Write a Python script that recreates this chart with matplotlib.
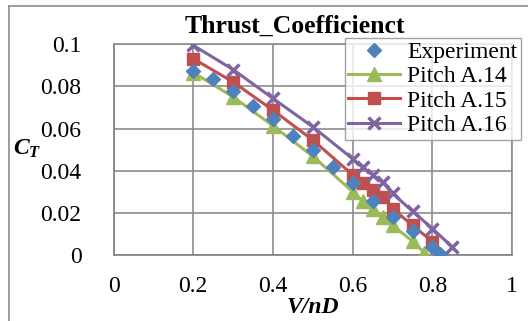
import matplotlib
matplotlib.use("Agg")
import matplotlib.pyplot as plt
from matplotlib.lines import Line2D

# --------------------
# Data
# --------------------
exp_j = [0.2, 0.25, 0.3, 0.35, 0.4, 0.45, 0.5, 0.55, 0.6, 0.65, 0.7, 0.75, 0.8, 0.82]
exp_ct = [0.0875, 0.0834, 0.0776, 0.0708, 0.0644, 0.0566, 0.0496, 0.0419, 0.034, 0.0257,
          0.0182, 0.0115, 0.0039, 0.0005]

a14_j = [0.2, 0.3, 0.4, 0.5, 0.6, 0.625, 0.65, 0.675, 0.7, 0.75, 0.78]
a14_ct = [0.0866, 0.075, 0.0613, 0.0468, 0.030, 0.0256, 0.0218, 0.018, 0.014, 0.0065, 0.001]

a15_j = [0.2, 0.3, 0.4, 0.5, 0.6, 0.625, 0.65, 0.675, 0.7, 0.75, 0.8]
a15_ct = [0.0932, 0.0821, 0.0687, 0.0545, 0.038, 0.034, 0.031, 0.0276, 0.022, 0.014, 0.0063]

a16_j = [0.2, 0.3, 0.4, 0.5, 0.6, 0.625, 0.65, 0.675, 0.7, 0.75, 0.8, 0.85]
a16_ct = [0.0995, 0.088, 0.0743, 0.0608, 0.0456, 0.0415, 0.038, 0.0345, 0.0292, 0.0207,
          0.0125, 0.0037]

x_ticks = [0, 0.2, 0.4, 0.6, 0.8, 1]
x_ticklabels = ["0", "0.2", "0.4", "0.6", "0.8", "1"]
y_ticks = [0, 0.02, 0.04, 0.06, 0.08, 0.1]
y_ticklabels = ["0", "0.02", "0.04", "0.06", "0.08", "0.1"]

plt.rcParams['font.family'] = ['Liberation Serif', 'DejaVu Serif']
plt.rcParams['font.size'] = 17
plt.rcParams['mathtext.fontset'] = 'custom'
plt.rcParams['mathtext.it'] = 'Liberation Serif:italic:bold'
plt.rcParams['mathtext.rm'] = 'Liberation Serif:bold'

# --------------------
# Plot
# --------------------
fig = plt.figure(figsize=(5.28, 3.21), dpi=100)
ax = fig.add_axes([0.215, 0.206, 0.755, 0.656])

ax.plot(a14_j, a14_ct, color='#9BBB59', lw=2.2, marker='^', ms=9.5, label='Pitch A.14', zorder=3)
ax.plot(a15_j, a15_ct, color='#C0504D', lw=2.2, marker='s', ms=9, label='Pitch A.15', zorder=3)
ax.plot(a16_j, a16_ct, color='#8064A2', lw=2.2, marker='x', ms=9, mew=2.5, label='Pitch A.16', zorder=3)
ax.plot(exp_j, exp_ct, ls='none', color='#4F81BD', marker='D', ms=7.5, label='Experiment', zorder=4)

ax.set_xlim(0, 1)
ax.set_ylim(0, 0.1)
ax.set_xticks(x_ticks)
ax.set_xticklabels(x_ticklabels)
ax.set_yticks(y_ticks)
ax.set_yticklabels(y_ticklabels)
ax.tick_params(length=0)
ax.tick_params(axis='x', pad=15)
ax.tick_params(axis='y', pad=23)
ax.grid(True, color='#8C8C8C', lw=1.2)
ax.set_axisbelow(True)
for s in ax.spines.values():
    s.set_color('#8C8C8C')
    s.set_linewidth(1.2)
ax.spines['left'].set_color('#808080')
ax.spines['bottom'].set_color('#808080')

ax.set_xlabel("V/nD", fontweight='bold', style='italic', labelpad=0)
fig.text(0.052, 0.535, r"$C_T$", ha='center', va='center')
fig.text(0.559, 0.918, "Thrust_Coefficienct", ha='center', va='center', fontweight='bold', fontsize=18.5)

handles, labels = ax.get_legend_handles_labels()
order = [3, 0, 1, 2]
leg = ax.legend([handles[i] for i in order], [labels[i] for i in order],
                loc='upper left', bbox_to_anchor=(0.653, 0.882), bbox_transform=fig.transFigure,
                frameon=True, fancybox=False, borderpad=0.15, labelspacing=0.12,
                handlelength=2.2, handletextpad=0.3, borderaxespad=0)
leg.get_frame().set_edgecolor('#8C8C8C')
leg.get_frame().set_linewidth(1.0)
leg.set_zorder(10)

# outer chart border (left and top only visible)
fig.add_artist(Line2D([8.5 / 528, 8.5 / 528], [0, 1 - 5.5 / 321], transform=fig.transFigure,
                      color='#8C8C8C', lw=1.2))
fig.add_artist(Line2D([8.5 / 528, 1], [1 - 5.5 / 321, 1 - 5.5 / 321], transform=fig.transFigure,
                      color='#8C8C8C', lw=1.2))

fig.savefig("out.png", dpi=100)
